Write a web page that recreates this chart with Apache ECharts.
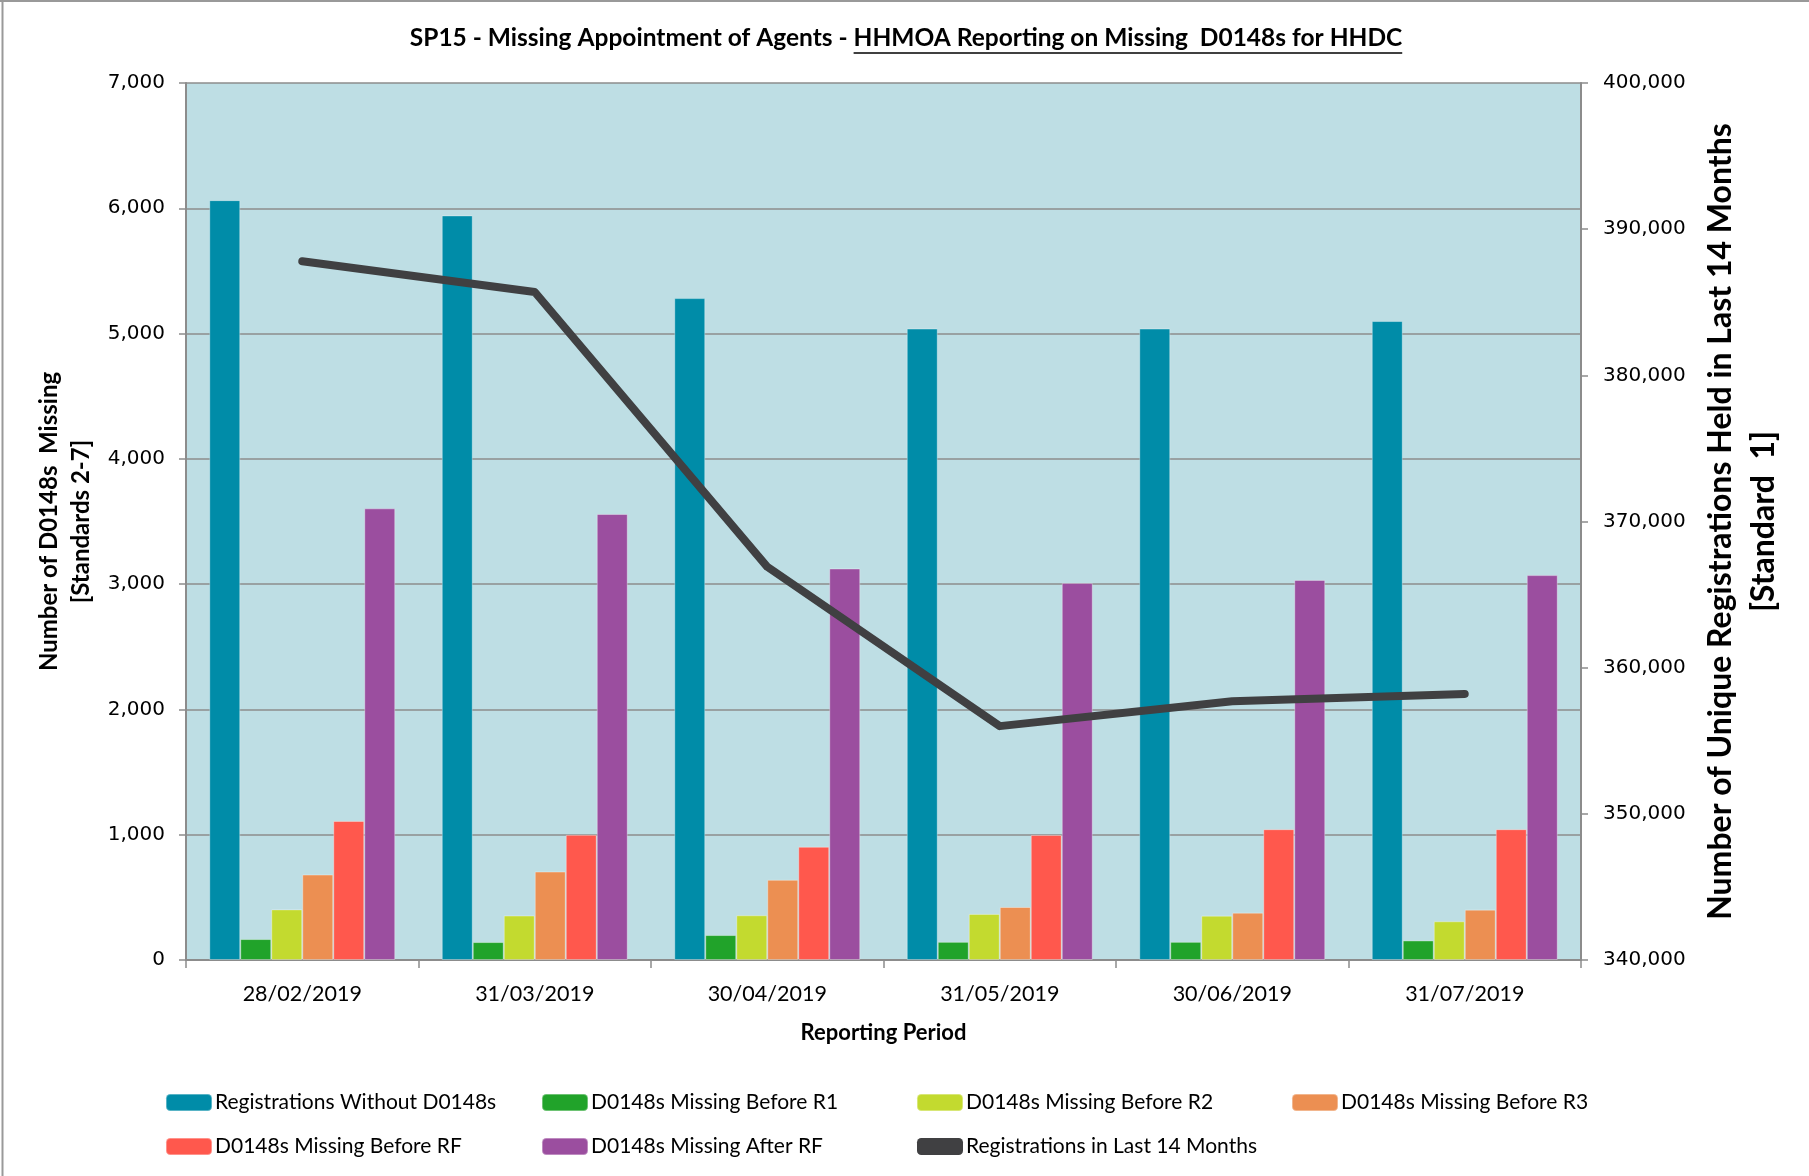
<!DOCTYPE html>
<html>
<head>
<meta charset="utf-8">
<script src="https://cdn.jsdelivr.net/npm/echarts@6/dist/echarts.min.js"></script>
<style>
  html, body { margin: 0; padding: 0; background: #fff; }
  #chart { width: 1809px; height: 1176px; }
</style>
</head>
<body>
<div id="chart"></div>
<script>
// reporting periods
const periods = ['28/02/2019', '31/03/2019', '30/04/2019', '31/05/2019', '30/06/2019', '31/07/2019'];

// bar series (left axis)
const withoutD0148 = [6065, 5943, 5283, 5040, 5040, 5100];
const beforeR1 = [167, 143, 199, 145, 145, 156];
const beforeR2 = [404, 355, 357, 368, 354, 309];
const beforeR3 = [682, 706, 640, 423, 378, 402];
const beforeRF = [1110, 999, 904, 998, 1044, 1044];
const afterRF = [3605, 3560, 3125, 3010, 3034, 3072];

// line series (right axis)
const registrations14m = [387800, 385700, 366900, 356000, 357700, 358200];

const FONT = 'Lato, "Open Sans", sans-serif';
const TICK_FONT = '"DejaVu Sans", Verdana, sans-serif';

const myChart = echarts.init(document.getElementById('chart'));

// measure title pieces so the underline sits under the second part only
const ctx = document.createElement('canvas').getContext('2d');
ctx.font = 'bold 24.5px ' + FONT;
const t1 = 'SP15 - Missing Appointment of Agents - ';
const t2 = 'HHMOA Reporting on Missing  D0148s for HHDC';
const w1 = ctx.measureText(t1).width;
const w2 = ctx.measureText(t2).width;
const titleLeft = 906 - (w1 + w2) / 2;

const barSeries = [
  ['Registrations Without D0148s', withoutD0148, '#008CA8'],
  ['D0148s Missing Before R1', beforeR1, '#21A32A'],
  ['D0148s Missing Before R2', beforeR2, '#C3DA2F'],
  ['D0148s Missing Before R3', beforeR3, '#EC8F52'],
  ['D0148s Missing Before RF', beforeRF, '#FF584D'],
  ['D0148s Missing After RF', afterRF, '#9B4E9F']
].map(([name, data, color]) => ({
  name: name,
  type: 'bar',
  data: data,
  barGap: '0%',
  barCategoryGap: '20%',
  itemStyle: { color: color, borderColor: 'rgba(255,255,255,0.35)', borderWidth: 1 }
}));
const lineName = 'Registrations in Last 14 Months';

// legend laid out as 4 columns, 2 rows (one legend per column)
const legendCols = [
  [barSeries[0].name, barSeries[4].name],
  [barSeries[1].name, barSeries[5].name],
  [barSeries[2].name, { name: lineName, icon: 'roundRect' }],
  [barSeries[3].name]
];
const colLeft = [160, 536, 911, 1286];

let option = {
  backgroundColor: '#fff',
  animation: false,
  graphic: [
    { type: 'line', shape: { x1: 0, y1: 1, x2: 1809, y2: 1 }, style: { stroke: '#999', lineWidth: 2 } },
    { type: 'line', shape: { x1: 2.5, y1: 0, x2: 2.5, y2: 1176 }, style: { stroke: '#999', lineWidth: 2 } },
    { type: 'text', left: titleLeft, top: 26, style: { text: t1, font: 'bold 24.5px ' + FONT, fill: '#000' } },
    { type: 'text', left: titleLeft + w1, top: 26, style: { text: t2, font: 'bold 24.5px ' + FONT, fill: '#000' } },
    { type: 'line', shape: { x1: titleLeft + w1, y1: 53, x2: titleLeft + w1 + w2, y2: 53 }, style: { stroke: '#000', lineWidth: 1.5 } }
  ],
  grid: {
    left: 186, right: 228, top: 83, bottom: 216,
    show: true, backgroundColor: '#BEDEE4', borderWidth: 0
  },
  legend: legendCols.map((items, i) => ({
    data: items,
    orient: 'vertical',
    left: colLeft[i], top: 1087,
    itemWidth: 46, itemHeight: 17, itemGap: 23,
    textStyle: { fontFamily: FONT, fontSize: 21, color: '#000', padding: [0, 0, 0, -2] }
  })),
  xAxis: {
    type: 'category',
    data: periods,
    name: 'Reporting Period',
    nameLocation: 'middle',
    nameGap: 62,
    nameTextStyle: { fontFamily: FONT, fontSize: 22, fontWeight: 'bold', color: '#000' },
    axisLine: { lineStyle: { color: '#8c8c8c', width: 2 } },
    axisTick: { show: true, length: 8, lineStyle: { color: '#8c8c8c', width: 1.5 } },
    axisLabel: { fontFamily: FONT, fontSize: 21.5, color: '#000', margin: 23 }
  },
  yAxis: [
    {
      type: 'value',
      min: 0, max: 7000, interval: 1000,
      name: 'Number of D0148s  Missing\n[Standards 2-7]',
      nameLocation: 'middle',
      nameGap: 88,
      nameTextStyle: { fontFamily: FONT, fontSize: 24, fontWeight: 'bold', color: '#000', lineHeight: 32 },
      axisLine: { show: true, lineStyle: { color: '#8c8c8c', width: 2 } },
      axisTick: { show: true, length: 7, lineStyle: { color: '#8c8c8c', width: 1.5 } },
      axisLabel: { fontFamily: TICK_FONT, fontSize: 20, color: '#000', margin: 21,
        formatter: v => v.toLocaleString('en-GB') },
      splitLine: { lineStyle: { color: '#8c8c8c', width: 1.5 } }
    },
    {
      type: 'value',
      min: 340000, max: 400000, interval: 10000,
      name: 'Number of Unique Registrations Held in Last 14 Months\n[Standard  1]',
      nameLocation: 'middle',
      nameGap: 118,
      nameTextStyle: { fontFamily: FONT, fontSize: 32, fontWeight: 'bold', color: '#000', lineHeight: 43 },
      axisLine: { show: true, lineStyle: { color: '#8c8c8c', width: 2 } },
      axisTick: { show: true, length: 7, lineStyle: { color: '#8c8c8c', width: 1.5 } },
      axisLabel: { fontFamily: TICK_FONT, fontSize: 20, color: '#000', margin: 22,
        formatter: v => v.toLocaleString('en-GB') },
      splitLine: { show: false }
    }
  ],
  series: barSeries.concat([
    {
      name: lineName,
      type: 'line',
      yAxisIndex: 1,
      data: registrations14m,
      symbol: 'none',
      lineStyle: { color: '#404042', width: 8, cap: 'round', join: 'round' },
      itemStyle: { color: '#404042' },
      z: 5
    }
  ])
};

myChart.setOption(option);
window.onresize = () => {
  myChart.resize();
};
</script>
</body>
</html>
